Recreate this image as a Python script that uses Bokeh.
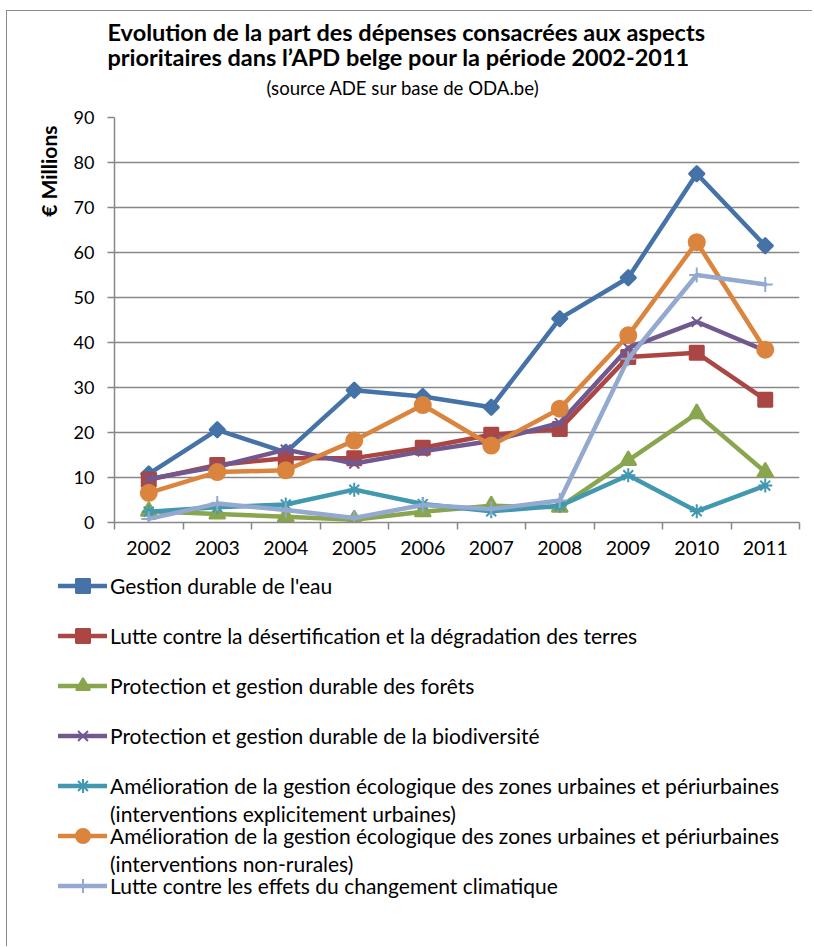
from math import pi
from bokeh.plotting import figure
from bokeh.layouts import column
from bokeh.models import Range1d, FixedTicker, Legend, LegendItem, Title, Plot
from bokeh.embed import file_html
from bokeh.resources import INLINE

# ---------------- data ----------------
years = [2002, 2003, 2004, 2005, 2006, 2007, 2008, 2009, 2010, 2011]
year_labels = ["2002", "2003", "2004", "2005", "2006", "2007", "2008", "2009", "2010", "2011"]
y_ticks = [0, 10, 20, 30, 40, 50, 60, 70, 80, 90]

# legend labels: first line of each series, plus continuation lines
series_labels = [
    "Gestion durable de l'eau",
    "Lutte contre la désertification et la dégradation des terres",
    "Protection et gestion durable des forêts",
    "Protection et gestion durable de la biodiversité",
    "Amélioration de la gestion écologique des zones urbaines et périurbaines",
    "Amélioration de la gestion écologique des zones urbaines et périurbaines",
    "Lutte contre les effets du changement climatique",
]
continuation_labels = [
    "(interventions explicitement urbaines)",
    "(interventions non-rurales)",
]
eau = [10.8, 20.6, 15.6, 29.4, 28.0, 25.6, 45.3, 54.4, 77.5, 61.5]
desertification = [9.5, 12.8, 14.3, 14.3, 16.6, 19.5, 20.8, 36.8, 37.7, 27.3]
forets = [2.5, 1.9, 1.3, 0.6, 2.4, 3.7, 3.4, 13.8, 24.2, 11.2]
biodiversite = [9.7, 12.4, 16.2, 13.1, 15.8, 18.1, 22.1, 38.8, 44.6, 38.2]
urbain_explicite = [2.4, 3.4, 4.0, 7.3, 4.1, 2.5, 3.7, 10.5, 2.5, 8.2]
urbain_non_rural = [6.6, 11.2, 11.6, 18.2, 26.1, 17.1, 25.3, 41.6, 62.3, 38.4]
climat = [0.8, 4.2, 2.8, 1.0, 3.9, 3.0, 4.9, 36.4, 55.0, 52.9]

all_values = [eau, desertification, forets, biodiversite, urbain_explicite, urbain_non_rural, climat]
colors = ["#4572A7", "#AA4643", "#89A54E", "#71588F", "#4198AF", "#DB843D", "#93A9CF"]
markers = ["square", "square", "triangle", "x", "asterisk", "circle", "cross"]
marker_sizes = [11, 14, 16, 14, 14, 16, 15]
marker_angles = [pi / 4, 0, 0, 0, 0, 0, 0]

title_text = ("Evolution de la part des dépenses consacrées aux  aspects\n"
              "prioritaires dans l\u2019APD belge pour la période 2002-2011")
subtitle = "(source ADE sur base de ODA.be)"
y_label = "€ Millions"

GRID = "#878787"
BORDER = "1px solid #8c8c8c"
FONT = "Lato"
HAS_FRAME_ALIGN = "frame_align" in Plot.properties()

# ---------------- chart ----------------
p = figure(
    width=806, height=555,
    x_range=Range1d(years[0] - 0.5, years[-1] + 0.5),
    y_range=Range1d(0, 90),
    output_backend="svg", toolbar_location=None,
    min_border_left=107, min_border_right=14, min_border_top=106, min_border_bottom=44,
    margin=(10, 0, 0, 6),
    styles={"border-left": BORDER, "border-top": BORDER},
)
p.outline_line_color = None
p.background_fill_color = "white"
p.border_fill_color = "white"

p.xaxis.ticker = FixedTicker(ticks=years, minor_ticks=[y - 0.5 for y in years] + [years[-1] + 0.5])
p.xaxis.major_label_overrides = {y: lab for y, lab in zip(years, year_labels)}
p.xaxis.major_tick_line_color = None
p.xaxis.major_tick_out = 7
p.xaxis.major_tick_in = 0
p.xaxis.minor_tick_out = 7
p.xaxis.minor_tick_in = 0
p.xaxis.minor_tick_line_color = GRID
p.xaxis.minor_tick_line_width = 1.5
p.xaxis.axis_line_color = GRID
p.xaxis.axis_line_width = 1.5
p.xaxis.major_label_standoff = 11
p.xaxis.major_label_text_font = FONT
p.xaxis.major_label_text_font_size = "19.5px"
p.xaxis.major_label_text_color = "black"

p.yaxis.ticker = FixedTicker(ticks=y_ticks, minor_ticks=[])
p.yaxis.major_tick_out = 7
p.yaxis.major_tick_in = 0
p.yaxis.major_tick_line_color = GRID
p.yaxis.major_tick_line_width = 1.5
p.yaxis.axis_line_color = GRID
p.yaxis.axis_line_width = 1.5
p.yaxis.major_label_standoff = 13
p.yaxis.major_label_text_font = FONT
p.yaxis.major_label_text_font_size = "18px"
p.yaxis.major_label_text_color = "black"

p.xgrid.grid_line_color = None
p.ygrid.grid_line_color = GRID
p.ygrid.grid_line_width = 1.5

for vals, col, mk, ms, ang in zip(all_values, colors, markers, marker_sizes, marker_angles):
    p.line(years, vals, line_color=col, line_width=4.5, line_join="round", line_cap="round")
    p.scatter(years, vals, marker=mk, size=ms, angle=ang,
              fill_color=col, line_color=col, line_width=2)

# titles (first added sits closest to the frame)
p.add_layout(Title(text=" ", text_font_size="4px", standoff=9), "above")
p.add_layout(Title(text=subtitle, align="left", offset=152, standoff=6,
                   text_font=FONT, text_font_style="normal", text_font_size="18.6px",
                   text_color="black"), "above")
p.add_layout(Title(text=title_text, align="left", offset=-7, standoff=0,
                   text_font=FONT, text_font_style="bold", text_font_size="23.5px",
                   text_line_height=0.9, text_color="black"), "above")
p.add_layout(Title(text=y_label, align="right", offset=8, standoff=19,
                   text_font=FONT, text_font_style="bold", text_font_size="21px",
                   text_color="black"), "left")

# ---------------- legend panel ----------------
q = figure(
    width=806, height=381,
    x_range=Range1d(0, 1), y_range=Range1d(0, 1),
    x_axis_location=None, y_axis_location=None,
    output_backend="svg", toolbar_location=None,
    min_border=0, min_border_left=0, min_border_right=0, min_border_top=0, min_border_bottom=0,
    margin=(0, 0, 0, 6),
    styles={"border-left": BORDER},
)
q.outline_line_color = None
q.grid.visible = False
if HAS_FRAME_ALIGN:
    p.frame_align = False
    q.frame_align = False

legend_common = dict(
    glyph_width=49, glyph_height=35, label_standoff=3, label_height=35, spacing=15,
    label_text_font=FONT, label_text_font_size="21px", label_text_color="black",
    padding=0, margin=0, border_line_color=None, background_fill_alpha=0,
    inactive_fill_alpha=0,
)

main_items = []
for label, vals, col, mk, ms, ang in zip(series_labels, all_values, colors, markers,
                                         marker_sizes, marker_angles):
    lr = q.line(years, vals, line_color=col, line_width=4.5, line_join="round", line_cap="round",
                visible=False)
    sr = q.scatter(years, vals, marker=mk, size=ms, angle=ang,
                   fill_color=col, line_color=col, line_width=2, visible=False)
    main_items.append(LegendItem(label=label, renderers=[lr, sr]))
cont_items = [LegendItem(label=lab, renderers=[]) for lab in continuation_labels]

q.add_layout(Legend(items=main_items, location=(51, 43), **legend_common))
q.add_layout(Legend(items=cont_items, location=(51, 65), **legend_common))

open("out.html", "w").write(file_html(column(p, q), INLINE))
